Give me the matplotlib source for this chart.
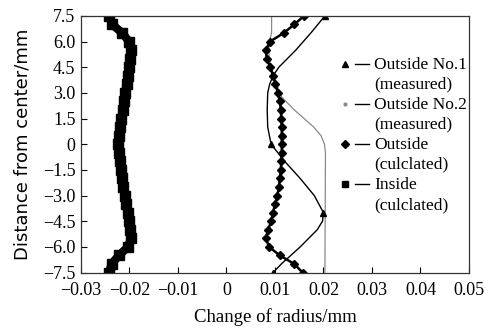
import numpy as np
import matplotlib
matplotlib.use("Agg")
import matplotlib.pyplot as plt
from matplotlib.lines import Line2D
from matplotlib.legend_handler import HandlerTuple

plt.rcParams['font.family'] = ['Liberation Serif', 'DejaVu Serif']

# distance from center (mm)
y_calc = np.arange(7.5, -7.51, -0.5)
inside_calc = [-0.0242, -0.0236, -0.0215, -0.0201, -0.0197, -0.0199, -0.0201, -0.0204,
               -0.0206, -0.0209, -0.0211, -0.0214, -0.0217, -0.0220, -0.0222, -0.0223,
               -0.0222, -0.0220, -0.0218, -0.0216, -0.0213, -0.0210, -0.0207, -0.0204,
               -0.0201, -0.0198, -0.0197, -0.0203, -0.0222, -0.0237, -0.0242]
outside_calc = [0.0160, 0.0140, 0.0118, 0.0090, 0.0081, 0.0083, 0.0090, 0.0096,
                0.0101, 0.0106, 0.0110, 0.0112, 0.0113, 0.0114, 0.0114, 0.0114,
                0.0114, 0.0113, 0.0112, 0.0110, 0.0108, 0.0105, 0.0100, 0.0096,
                0.0092, 0.0086, 0.0081, 0.0088, 0.0110, 0.0140, 0.0157]

y_no1 = [7.5, 6.5, 5.5, 4.5, 4.0, 3.5, 3.0, 2.0, 1.0, 0.0, -1.0, -2.0, -3.0, -4.0,
         -4.5, -5.0, -6.0, -7.0, -7.5]
outside_no1 = [0.0203, 0.0174, 0.0143, 0.0108, 0.0096, 0.0089, 0.0085, 0.0084, 0.0085,
               0.0092, 0.0120, 0.0152, 0.0181, 0.0200, 0.0198, 0.0187, 0.0152, 0.0113, 0.0096]
no1_marks = [0, 9, 13, 18]

y_no2 = [7.5, 6.5, 6.0, 5.0, 4.0, 3.0, 2.75, 2.0, 1.5, 1.0, 0.5, 0.0, -0.5, -1.0, -7.5]
outside_no2 = [0.0093, 0.0093, 0.0088, 0.0088, 0.0098, 0.0110, 0.0114, 0.0140, 0.0160,
               0.0180, 0.0195, 0.0202, 0.0204, 0.0204, 0.0203]

xticks = [-0.03, -0.02, -0.01, 0, 0.01, 0.02, 0.03, 0.04, 0.05]
xtick_labels = ['\u22120.03', '\u22120.02', '\u22120.01', '0', '0.01', '0.02', '0.03', '0.04', '0.05']
yticks = [7.5, 6.0, 4.5, 3.0, 1.5, 0, -1.5, -3.0, -4.5, -6.0, -7.5]
ytick_labels = ['7.5', '6.0', '4.5', '3.0', '1.5', '0', '\u22121.5', '\u22123.0', '\u22124.5', '\u22126.0', '\u22127.5']


class HandlerTupleUp(HandlerTuple):
    # put the legend symbol on the first line of a two-line label
    def create_artists(self, legend, orig_handle, xdescent, ydescent, width, height,
                       fontsize, trans):
        arts = super().create_artists(legend, orig_handle, xdescent, ydescent, width,
                                      height, fontsize, trans)
        for a in arts:
            a.set_ydata(np.asarray(a.get_ydata(), dtype=float) + fontsize * 0.62)
        return arts


fig = plt.figure(figsize=(4.92, 3.30), dpi=100)
ax = fig.add_axes([0.1646, 0.174, 0.7886, 0.778])

ax.plot(outside_no2, y_no2, color='#8a8a8a', lw=0.9)
ax.plot(outside_no1, y_no1, color='black', lw=1.0, marker='^', ms=5, markevery=no1_marks)
ax.plot(outside_calc, y_calc, color='black', lw=1.8, marker='D', ms=3.8)
ax.plot(inside_calc, y_calc, color='black', lw=6, marker='s', ms=6.5, solid_joinstyle='round')

ax.set_xlim(-0.03, 0.05)
ax.set_ylim(-7.5, 7.5)
ax.set_xticks(xticks, xtick_labels)
ax.set_yticks(yticks, ytick_labels)
ax.tick_params(direction='in', length=4, width=0.8, labelsize=13)
ax.tick_params(axis='x', pad=7)
ax.tick_params(axis='y', pad=4)
for s in ax.spines.values():
    s.set_linewidth(0.9)
    s.set_color('#333333')

ax.set_xlabel('Change of radius/mm', fontsize=13.5, labelpad=6)
ax.set_ylabel('Distance from center/mm', fontsize=13, family='DejaVu Sans', labelpad=8)

handles = [
    (Line2D([], [], color='black', marker='^', ls='', ms=5), Line2D([], [], color='black', lw=1.0)),
    (Line2D([], [], color='#8a8a8a', marker='.', ls='', ms=4), Line2D([], [], color='black', lw=1.0)),
    (Line2D([], [], color='black', marker='D', ls='', ms=4), Line2D([], [], color='black', lw=1.0)),
    (Line2D([], [], color='black', marker='s', ls='', ms=5), Line2D([], [], color='black', lw=1.0)),
]
labels = ['Outside No.1\n(measured)', 'Outside No.2\n(measured)',
          'Outside\n(culclated)', 'Inside\n(culclated)']
leg = ax.legend(handles, labels, handler_map={tuple: HandlerTupleUp(ndivide=None, pad=0.2)},
                loc='upper left', bbox_to_anchor=(0.64, 0.875), frameon=False, fontsize=12.5,
                handlelength=1.8, handletextpad=0.3, labelspacing=0.25, borderpad=0)
for t in leg.get_texts():
    t.set_linespacing(1.32)

fig.savefig('out.png', dpi=100)
